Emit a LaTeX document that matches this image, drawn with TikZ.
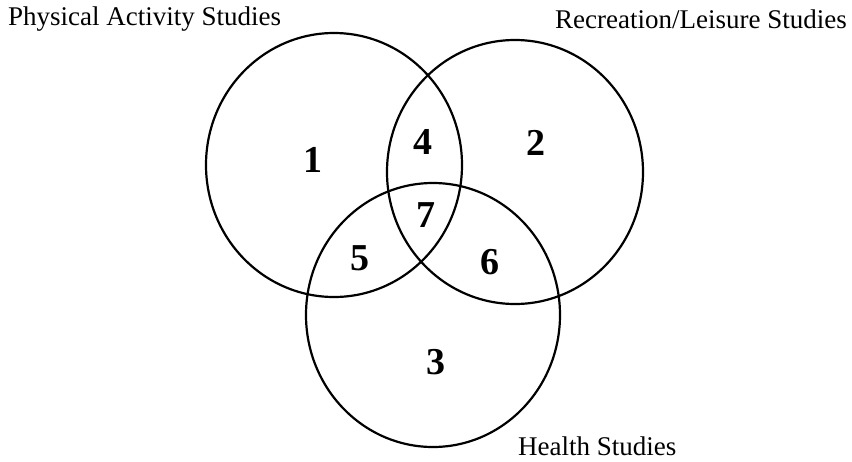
\documentclass[tikz,border=0pt]{standalone}
\usepackage{fontspec}
\setmainfont{Liberation Serif}
\begin{document}
\begin{tikzpicture}[x=1pt,y=-1pt,
  setline/.style={line width=2.2pt},
  setlabel/.style={font=\fontsize{27}{30}\selectfont, inner sep=0pt},
  regionnum/.style={font=\fontsize{38}{42}\selectfont\bfseries, inner sep=0pt}]
\useasboundingbox (0,0) rectangle (852,461);
\draw[setline] (334,165) ellipse [x radius=128, y radius=132];
\draw[setline] (515,172) ellipse [x radius=128, y radius=132];
\draw[setline] (433,315) ellipse [x radius=127, y radius=132];
\node[setlabel, anchor=west] (pa) at (8,19) {Physical Activity Studies};
\node[setlabel, anchor=east] (rl) at (847,19) {Recreation/Leisure Studies};
\node[setlabel, anchor=west] (hs) at (518,446) {Health Studies};
\node[regionnum] (r1) at (313,160) {1};
\node[regionnum] (r2) at (536,143) {2};
\node[regionnum] (r3) at (436,362) {3};
\node[regionnum] (r4) at (423,142) {4};
\node[regionnum] (r5) at (360,258) {5};
\node[regionnum] (r6) at (490,262) {6};
\node[regionnum] (r7) at (426,215) {7};
\end{tikzpicture}
\end{document}
